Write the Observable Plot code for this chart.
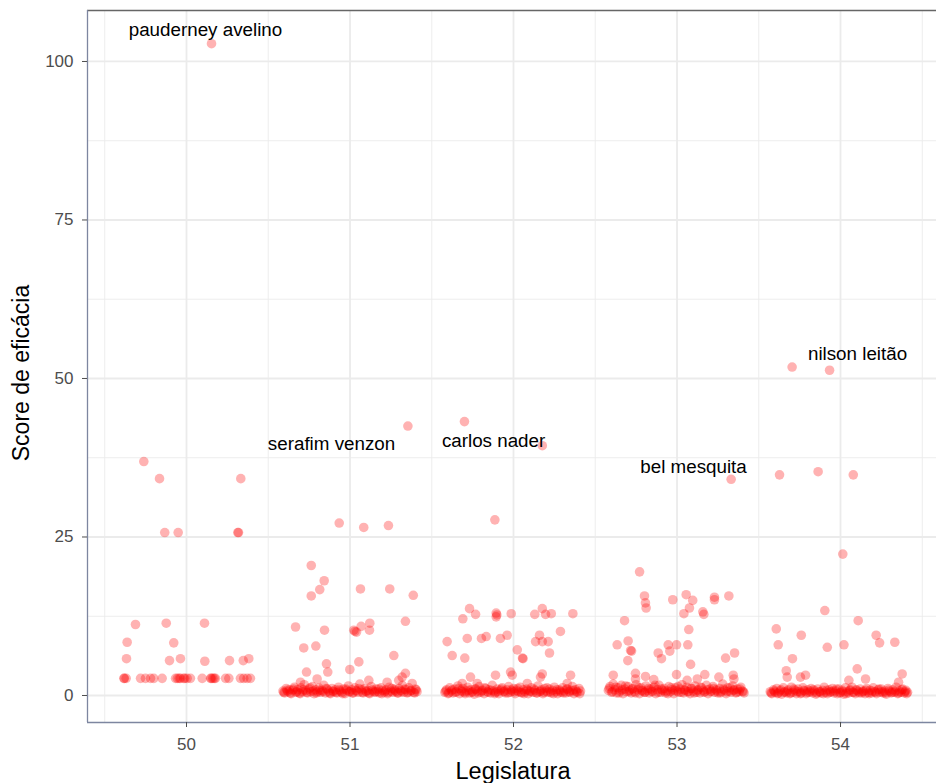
<!DOCTYPE html>
<html><head><meta charset="utf-8">
<script src="https://cdn.jsdelivr.net/npm/d3@7"></script>
<script src="https://cdn.jsdelivr.net/npm/@observablehq/plot@0.6"></script>
<style>
body{margin:0;background:#fff;overflow:hidden}
</style></head><body><div id="chart"></div>
<script>
// Jittered legislatura value and efficacy score
const leg50 = [[50.153,102.8],[49.739,36.9],[49.835,34.2],[50.332,34.2],
[49.867,25.7],[49.949,25.7],[50.314,25.7],[50.318,25.7],
[49.688,11.2],[49.876,11.4],[50.110,11.4],[49.637,8.4],[49.922,8.3],
[49.633,5.8],[49.896,5.5],[49.963,5.8],[50.112,5.4],[50.263,5.5],[50.347,5.5],[50.381,5.8],
[49.617,2.7],[49.620,2.7],[49.631,2.7],[49.719,2.7],[49.749,2.7],[49.780,2.7],[49.800,2.7],[49.851,2.7],[49.933,2.7],[49.944,2.7],[49.955,2.7],[49.963,2.7],[49.983,2.7],[49.990,2.7],[50.004,2.7],[50.024,2.7],[50.096,2.7],[50.147,2.7],[50.152,2.7],[50.161,2.7],[50.170,2.7],[50.177,2.7],[50.239,2.7],[50.259,2.7],[50.330,2.7],[50.350,2.7],[50.371,2.7],[50.391,2.7]];

const leg51 = [[51.354,42.5],[50.934,27.2],[51.084,26.5],[51.235,26.8],
[50.763,20.5],[50.842,18.1],[50.815,16.7],[50.763,15.7],[51.064,16.8],[51.243,16.8],[51.387,15.8],
[50.667,10.8],[50.844,10.3],[51.023,10.3],[51.030,10.1],[51.040,10.0],[51.068,10.9],[51.121,11.4],[51.119,10.3],[51.339,11.7],
[50.717,7.5],[50.791,7.8],[51.268,6.3],[50.856,5.0],[50.864,3.7],[50.999,4.1],[51.054,5.3],[50.734,3.7],[51.339,3.5],
[50.697,2.1],[50.799,2.6],[51.115,2.4],[51.227,2.1],[51.298,2.4],[51.319,2.9]];

const band51 = [[50.59,0.7],[50.60,0.4],[50.61,1.1],[50.62,0.6],[50.63,0.9],[50.64,0.3],[50.65,0.8],[50.66,1.3],[50.67,0.5],[50.68,0.9],[50.69,0.4],[50.70,1.2],[50.71,0.6],[50.72,1.7],[50.73,0.8],[50.74,0.4],[50.75,1.0],[50.76,0.6],[50.77,1.4],[50.78,0.3],[50.79,0.9],[50.80,0.6],[50.81,1.2],[50.82,0.5],[50.83,0.8],[50.84,1.6],[50.85,0.4],[50.86,1.0],[50.87,0.7],[50.88,0.3],[50.89,1.1],[50.90,0.6],[50.91,0.9],[50.92,0.4],[50.93,1.3],[50.94,0.7],[50.95,0.5],[50.96,1.0],[50.97,0.3],[50.98,0.8],[50.99,1.5],[51.00,0.6],[51.01,0.9],[51.02,0.4],[51.03,1.2],[51.04,0.7],[51.05,0.5],[51.06,1.8],[51.07,0.9],[51.08,0.4],[51.09,1.1],[51.10,0.6],[51.11,0.8],[51.12,0.3],[51.13,1.4],[51.14,0.7],[51.15,0.5],[51.16,1.0],[51.17,0.6],[51.18,0.4],[51.19,1.2],[51.20,0.8],[51.21,0.5],[51.22,0.9],[51.23,0.3],[51.24,1.3],[51.25,0.7],[51.26,0.5],[51.27,1.0],[51.28,0.6],[51.29,0.4],[51.30,1.1],[51.31,0.8],[51.32,1.6],[51.33,0.5],[51.34,0.9],[51.35,0.4],[51.36,1.2],[51.37,0.7],[51.38,1.9],[51.39,0.5],[51.40,1.0],[51.41,0.6]];
const band51b = [[50.595,0.5],[50.615,0.8],[50.635,0.4],[50.655,1.0],[50.675,0.6],[50.695,0.3],[50.715,0.9],[50.735,0.5],[50.755,1.2],[50.775,0.7],[50.795,0.4],[50.815,0.8],[50.835,0.6],[50.855,1.1],[50.875,0.4],[50.895,0.7],[50.915,0.5],[50.935,0.9],[50.955,0.3],[50.975,1.0],[50.995,0.6],[51.015,0.4],[51.035,0.8],[51.055,1.1],[51.075,0.5],[51.095,0.7],[51.115,0.4],[51.135,0.9],[51.155,0.6],[51.175,1.0],[51.195,0.3],[51.215,0.7],[51.235,0.5],[51.255,1.1],[51.275,0.8],[51.295,0.4],[51.315,0.6],[51.335,1.0],[51.355,0.5],[51.375,0.8],[51.395,0.4],[51.405,0.9]];

const leg52 = [[51.700,43.2],[52.176,39.4],[51.886,27.7],
[51.731,13.7],[51.768,12.8],[51.690,12.1],[51.894,13.0],[51.894,12.4],[51.898,12.7],[51.986,12.9],[52.130,12.8],[52.176,13.7],[52.196,12.8],[52.231,12.9],[52.363,12.9],
[51.594,8.5],[51.717,9.0],[51.804,9.0],[51.833,9.3],[51.920,9.0],[51.961,9.5],[52.135,8.5],[52.159,9.5],[52.176,8.5],[52.212,8.5],[52.287,10.1],[52.220,6.7],
[51.625,6.3],[51.702,5.9],[52.023,7.2],[52.055,5.9],[52.058,5.8],
[51.737,2.9],[51.686,1.9],[51.778,1.9],[51.890,3.2],[51.982,3.7],[51.992,3.2],[52.084,1.9],[52.165,2.9],[52.176,3.4],[52.349,3.2],[52.328,1.9]];

const band52 = [[51.58,0.5],[51.59,0.9],[51.60,0.3],[51.61,1.2],[51.62,0.7],[51.63,0.4],[51.64,1.0],[51.65,0.6],[51.66,1.5],[51.67,0.3],[51.68,0.8],[51.69,1.1],[51.70,0.5],[51.71,0.7],[51.72,1.3],[51.73,0.4],[51.74,0.9],[51.75,0.6],[51.76,0.2],[51.77,1.0],[51.78,0.7],[51.79,1.4],[51.80,0.5],[51.81,0.8],[51.82,0.3],[51.83,1.1],[51.84,0.6],[51.85,0.9],[51.86,0.4],[51.87,1.6],[51.88,0.7],[51.89,0.5],[51.90,1.0],[51.91,0.3],[51.92,0.8],[51.93,1.2],[51.94,0.6],[51.95,0.4],[51.96,0.9],[51.97,1.4],[51.98,0.5],[51.99,0.7],[52.00,1.1],[52.01,0.3],[52.02,0.8],[52.03,0.6],[52.04,1.3],[52.05,0.4],[52.06,0.9],[52.07,0.6],[52.08,1.0],[52.09,0.3],[52.10,0.7],[52.11,1.2],[52.12,0.5],[52.13,0.8],[52.14,0.4],[52.15,1.5],[52.16,0.6],[52.17,0.9],[52.18,0.3],[52.19,1.1],[52.20,0.7],[52.21,0.5],[52.22,1.0],[52.23,0.4],[52.24,0.8],[52.25,1.3],[52.26,0.6],[52.27,0.3],[52.28,0.9],[52.29,0.5],[52.30,1.2],[52.31,0.7],[52.32,0.4],[52.33,1.0],[52.34,0.6],[52.35,0.8],[52.36,1.4],[52.37,0.3],[52.38,0.9],[52.39,0.5],[52.40,1.1],[52.41,0.7]];
const band52b = [[51.585,0.7],[51.605,0.4],[51.625,0.9],[51.645,0.5],[51.665,1.1],[51.685,0.6],[51.705,0.3],[51.725,0.8],[51.745,0.5],[51.765,1.0],[51.785,0.4],[51.805,0.7],[51.825,1.2],[51.845,0.5],[51.865,0.8],[51.885,0.3],[51.905,0.6],[51.925,1.0],[51.945,0.7],[51.965,0.4],[51.985,0.9],[52.005,0.6],[52.025,1.1],[52.045,0.5],[52.065,0.3],[52.085,0.8],[52.105,0.6],[52.125,1.0],[52.145,0.4],[52.165,0.7],[52.185,0.5],[52.205,1.2],[52.225,0.6],[52.245,0.3],[52.265,0.9],[52.285,0.7],[52.305,0.4],[52.325,1.0],[52.345,0.5],[52.365,0.8],[52.385,0.6],[52.405,0.3]];

const leg53 = [[53.331,34.1],
[52.771,19.5],[52.801,15.7],[52.807,14.6],[52.811,13.8],[52.974,15.1],[53.056,15.9],[53.096,15.0],[53.076,13.8],[53.042,12.9],[53.158,13.2],[53.164,12.8],[53.229,15.5],[53.229,15.1],[53.317,15.7],
[52.679,11.8],[53.072,10.4],
[52.634,8.0],[52.701,8.6],[52.716,7.1],[52.722,7.0],[52.699,5.5],[52.885,6.7],[52.905,5.8],[52.946,8.0],[52.956,7.0],[52.997,8.0],[53.066,8.0],[53.083,4.9],[53.297,5.9],[53.352,6.7],
[52.610,3.2],[52.746,3.5],[52.746,2.6],[52.807,3.0],[52.858,2.5],[52.997,3.3],[53.062,2.4],[53.124,2.6],[53.170,3.3],[53.256,2.9],[53.344,3.2],[53.348,2.6]];

const band53 = [[52.58,0.8],[52.59,1.4],[52.60,0.5],[52.61,1.8],[52.62,0.9],[52.63,0.4],[52.64,1.2],[52.65,0.7],[52.66,1.6],[52.67,0.3],[52.68,1.0],[52.69,0.6],[52.70,1.4],[52.71,0.8],[52.72,0.4],[52.73,1.1],[52.74,0.6],[52.75,1.7],[52.76,0.9],[52.77,0.3],[52.78,1.2],[52.79,0.7],[52.80,0.5],[52.81,1.5],[52.82,0.8],[52.83,0.4],[52.84,1.0],[52.85,0.6],[52.86,1.3],[52.87,0.3],[52.88,0.9],[52.89,1.6],[52.90,0.5],[52.91,0.8],[52.92,1.1],[52.93,0.4],[52.94,0.7],[52.95,1.4],[52.96,0.6],[52.97,0.9],[52.98,0.3],[52.99,1.2],[53.00,0.7],[53.01,0.5],[53.02,1.0],[53.03,1.7],[53.04,0.4],[53.05,0.8],[53.06,1.3],[53.07,0.6],[53.08,0.3],[53.09,1.1],[53.10,0.7],[53.11,1.5],[53.12,0.5],[53.13,0.9],[53.14,0.4],[53.15,1.2],[53.16,0.8],[53.17,0.6],[53.18,1.6],[53.19,0.3],[53.20,1.0],[53.21,0.7],[53.22,1.4],[53.23,0.5],[53.24,0.9],[53.25,0.4],[53.26,1.1],[53.27,0.6],[53.28,1.8],[53.29,0.8],[53.30,0.3],[53.31,1.2],[53.32,0.7],[53.33,0.5],[53.34,1.5],[53.35,0.9],[53.36,0.4],[53.37,1.0],[53.38,0.6],[53.39,1.3],[53.40,0.7],[53.41,0.4]];
const band53b = [[52.585,1.1],[52.605,0.6],[52.625,1.3],[52.645,0.4],[52.665,0.9],[52.685,1.5],[52.705,0.6],[52.725,1.0],[52.745,0.4],[52.765,1.2],[52.785,0.8],[52.805,0.5],[52.825,1.1],[52.845,0.7],[52.865,1.6],[52.885,0.5],[52.905,1.0],[52.925,0.7],[52.945,0.3],[52.965,1.2],[52.985,0.8],[53.005,1.4],[53.025,0.5],[53.045,0.9],[53.065,0.6],[53.085,1.1],[53.105,0.4],[53.125,0.8],[53.145,1.3],[53.165,0.5],[53.185,0.9],[53.205,0.6],[53.225,1.1],[53.245,0.7],[53.265,0.4],[53.285,1.0],[53.305,0.6],[53.325,1.2],[53.345,0.8],[53.365,0.5],[53.385,1.0],[53.405,0.6]];

const leg54 = [[53.704,51.8],[53.933,51.3],[53.627,34.8],[53.863,35.3],[54.078,34.8],
[54.014,22.3],[53.904,13.4],[54.108,11.8],
[53.607,10.5],[53.619,8.0],[53.760,9.5],[53.919,7.6],[54.021,8.0],[54.218,9.5],[54.239,8.3],[54.332,8.4],
[53.706,5.8],
[53.668,3.9],[53.674,2.9],[53.755,2.9],[53.786,3.2],[54.102,4.2],[54.153,2.6],[54.377,3.4],[54.051,2.4],[54.355,2.1]];

const band54 = [[53.57,0.6],[53.58,0.3],[53.59,0.9],[53.60,0.5],[53.61,1.1],[53.62,0.4],[53.63,0.7],[53.64,0.2],[53.65,1.2],[53.66,0.6],[53.67,0.4],[53.68,0.9],[53.69,0.3],[53.70,1.3],[53.71,0.5],[53.72,0.8],[53.73,0.3],[53.74,1.0],[53.75,0.6],[53.76,0.4],[53.77,1.2],[53.78,0.7],[53.79,0.3],[53.80,0.9],[53.81,0.5],[53.82,1.1],[53.83,0.4],[53.84,0.7],[53.85,0.2],[53.86,1.0],[53.87,0.6],[53.88,0.4],[53.89,0.8],[53.90,1.3],[53.91,0.5],[53.92,0.3],[53.93,0.9],[53.94,0.6],[53.95,1.1],[53.96,0.4],[53.97,0.7],[53.98,0.3],[53.99,1.0],[54.00,0.5],[54.01,0.8],[54.02,0.2],[54.03,1.2],[54.04,0.6],[54.05,0.4],[54.06,0.9],[54.07,1.3],[54.08,0.5],[54.09,0.3],[54.10,0.8],[54.11,0.6],[54.12,1.0],[54.13,0.4],[54.14,0.7],[54.15,0.3],[54.16,1.1],[54.17,0.5],[54.18,0.8],[54.19,0.4],[54.20,1.2],[54.21,0.6],[54.22,0.3],[54.23,0.9],[54.24,0.5],[54.25,1.0],[54.26,0.4],[54.27,0.7],[54.28,0.2],[54.29,1.1],[54.30,0.6],[54.31,0.4],[54.32,0.9],[54.33,0.5],[54.34,1.3],[54.35,0.3],[54.36,0.7],[54.37,0.5],[54.38,1.0],[54.39,0.4],[54.40,0.8],[54.41,0.5]];
const band54b = [[53.575,0.4],[53.595,0.7],[53.615,0.3],[53.635,0.9],[53.655,0.5],[53.675,0.7],[53.695,0.4],[53.715,1.0],[53.735,0.6],[53.755,0.3],[53.775,0.8],[53.795,0.5],[53.815,0.7],[53.835,0.9],[53.855,0.4],[53.875,0.6],[53.895,0.3],[53.915,0.8],[53.935,0.5],[53.955,0.7],[53.975,1.0],[53.995,0.4],[54.015,0.6],[54.035,0.3],[54.055,0.8],[54.075,0.5],[54.095,0.9],[54.115,0.4],[54.135,0.6],[54.155,0.8],[54.175,0.3],[54.195,0.7],[54.215,0.5],[54.235,1.0],[54.255,0.6],[54.275,0.4],[54.295,0.8],[54.315,0.5],[54.335,0.7],[54.355,0.4],[54.375,0.9],[54.395,0.6],[54.405,0.3]];

// Labelled deputies
const labelNames = ["pauderney avelino","serafim venzon","carlos nader","bel mesquita","nilson leitão"];
const labelX = [50.116, 50.887, 51.878, 53.101, 54.104];
const labelY = [104.9, 39.75, 40.2, 36.1, 53.8];

// Axes
const xTicks = [50, 51, 52, 53, 54];
const xMinor = [49.5, 50.5, 51.5, 52.5, 53.5, 54.5];
const yTicks = [0, 25, 50, 75, 100];
const yMinor = [12.5, 37.5, 62.5, 87.5];
const xDomain = [49.3945, 54.587];
const yDomain = [-4.26, 108.04];

const points = [];
[leg50, leg51, band51, band51b, leg52, band52, band52b, leg53, band53, band53b, leg54, band54, band54b]
  .forEach(arr => arr.forEach(([x, y]) => points.push({x, y})));
const labels = labelNames.map((name, i) => ({name, x: labelX[i], y: labelY[i]}));

const font = "'Liberation Sans', Arial, sans-serif";
const chart = Plot.plot({
  width: 936, height: 783,
  marginLeft: 87, marginRight: 0, marginTop: 10, marginBottom: 61,
  style: {fontFamily: font, background: "#fff"},
  x: {domain: xDomain},
  y: {domain: yDomain},
  marks: [
    Plot.gridX(xMinor, {stroke: "#ebebeb", strokeOpacity: 1, strokeWidth: 0.9}),
    Plot.gridY(yMinor, {stroke: "#ebebeb", strokeOpacity: 1, strokeWidth: 0.9}),
    Plot.gridX(xTicks, {stroke: "#ebebeb", strokeOpacity: 1, strokeWidth: 1.8}),
    Plot.gridY(yTicks, {stroke: "#ebebeb", strokeOpacity: 1, strokeWidth: 1.8}),
    Plot.dot(points, {x: "x", y: "y", r: 4.8, fill: "#ff0000", fillOpacity: 0.3}),
    Plot.text(labels, {x: "x", y: "y", text: "name", fontSize: 18.8, fill: "#000", textAnchor: "middle"}),
    Plot.ruleY([yDomain[1]], {stroke: "#666", strokeWidth: 1.3}),
    Plot.ruleX([xDomain[0]], {stroke: "#7d86a0", strokeWidth: 1.3}),
    Plot.ruleY([yDomain[0]], {stroke: "#7d86a0", strokeWidth: 1.3}),
    Plot.axisX(xTicks, {tickSize: 5, tickPadding: 10, fontSize: 17, color: "#4d4d4d", label: null, tickFormat: d => String(d)}),
    Plot.axisY(yTicks, {tickSize: 5, tickPadding: 9, fontSize: 17, color: "#4d4d4d", label: null, tickFormat: d => String(d)})
  ]
});

const svg = d3.select(chart);
svg.append("text")
  .attr("x", 513).attr("y", 779)
  .attr("text-anchor", "middle")
  .style("font-family", font).style("font-size", "23.5px").attr("fill", "#000")
  .text("Legislatura");
svg.append("text")
  .attr("transform", "translate(29,373) rotate(-90)")
  .attr("text-anchor", "middle")
  .style("font-family", font).style("font-size", "23px").attr("fill", "#000")
  .text("Score de eficácia");

document.getElementById("chart").appendChild(chart);
</script></body></html>
